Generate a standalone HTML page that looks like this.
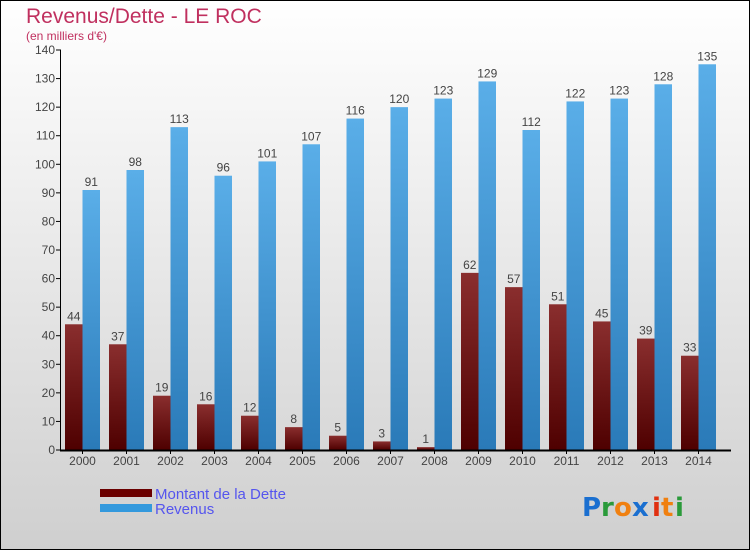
<!DOCTYPE html>
<html><head><meta charset="utf-8"><style>
body{margin:0;}
#c{width:750px;height:550px;position:relative;overflow:hidden;font-family:"Liberation Sans",sans-serif;}
</style></head><body>
<div id="c">
<svg id="s" width="750" height="550" xmlns="http://www.w3.org/2000/svg">
<defs>
<linearGradient id="bg" x1="0" y1="0" x2="0" y2="1"><stop offset="0" stop-color="#ffffff"/><stop offset="1" stop-color="#cfcfcf"/></linearGradient>
<linearGradient id="gd" x1="0" y1="0" x2="0" y2="1"><stop offset="0" stop-color="#8a2e2e"/><stop offset="1" stop-color="#4e0000"/></linearGradient>
<linearGradient id="gr" x1="0" y1="0" x2="0" y2="1"><stop offset="0" stop-color="#5aaee8"/><stop offset="1" stop-color="#2a7ab8"/></linearGradient>
</defs>
<rect x="0.5" y="0.5" width="749" height="549" fill="url(#bg)" stroke="#000"/>
<text x="26" y="23" font-size="21" fill="#c0305f">Revenus/Dette - LE ROC</text>
<text x="26" y="40" font-size="12" fill="#c0305f">(en milliers d'€)</text>
<g id="plot"></g>
<rect x="100" y="489" width="52" height="8" fill="#6a0000"/>
<rect x="100" y="504" width="52" height="8" fill="#3399dd"/>
<text x="155" y="499" font-size="15" fill="#5555ee">Montant de la Dette</text>
<text x="155" y="514" font-size="15" fill="#5555ee">Revenus</text>
<g font-size="26" font-family="'DejaVu Sans',sans-serif" font-weight="bold">
<text x="582" y="516" fill="#1a6fd0">P</text><text x="601" y="516" fill="#2a9a3a">r</text><text x="614" y="516" fill="#f08010">o</text><text x="632" y="516" fill="#1a6fd0">x</text><text x="652" y="516" fill="#e03010">i</text><text x="661" y="516" fill="#f08010">t</text><text x="675" y="516" fill="#2a9a3a">i</text>
</g>
</svg>
</div>
<script>
const years=["2000","2001","2002","2003","2004","2005","2006","2007","2008","2009","2010","2011","2012","2013","2014"];
const dette=[44,37,19,16,12,8,5,3,1,62,57,51,45,39,33];
const revenus=[91,98,113,96,101,107,116,120,123,129,112,122,123,128,135];
const yTicks=[0,10,20,30,40,50,60,70,80,90,100,110,120,130,140];
const NS="http://www.w3.org/2000/svg";
const g=document.getElementById('plot');
const y0=450,yTop=50,yMax=140;
function yS(v){return y0-(y0-yTop)*v/yMax;}
function xS(i){return 65+i*44;}
const bw=17.5;
function mk(t,a){const e=document.createElementNS(NS,t);for(const k in a)e.setAttribute(k,a[k]);g.appendChild(e);return e;}
yTicks.forEach(v=>{
  const l=mk('line',{x1:56,x2:61,y1:yS(v),y2:yS(v),stroke:'#000'});
  
  
  const t=mk('text',{x:55,y:yS(v)+4,'text-anchor':'end','font-size':12,fill:'#444'});
  t.textContent=v;
  
  
});
years.forEach((yr,i)=>{
  const x=xS(i);
  const b1=mk('rect',{x:x,y:yS(dette[i]),width:bw,height:y0-yS(dette[i]),fill:'url(#gd)'});
  
  
  const b2=mk('rect',{x:x+bw,y:yS(revenus[i]),width:bw,height:y0-yS(revenus[i]),fill:'url(#gr)'});
  
  
  const t1=mk('text',{x:x+bw/2,y:yS(dette[i])-4,'text-anchor':'middle','font-size':12,fill:'#444'});
  t1.textContent=dette[i];
  
  
  const t2=mk('text',{x:x+bw*1.5,y:yS(revenus[i])-4,'text-anchor':'middle','font-size':12,fill:'#444'});
  t2.textContent=revenus[i];
  
  
  const tk=mk('line',{x1:x+bw,x2:x+bw,y1:y0,y2:y0+4,stroke:'#000'});
  
  
  const xl=mk('text',{x:x+bw,y:465,'text-anchor':'middle','font-size':12,fill:'#444'});
  xl.textContent=yr;
  
  
});
const ya=mk('line',{x1:60.5,x2:60.5,y1:yTop,y2:y0,stroke:'#000'});


const xa=mk('line',{x1:60,x2:731,y1:y0+0.5,y2:y0+0.5,stroke:'#000','stroke-width':2});


</script>
</body></html>
